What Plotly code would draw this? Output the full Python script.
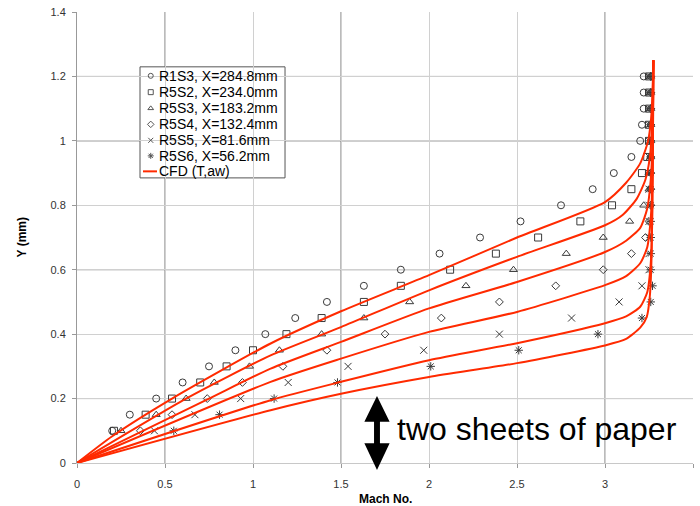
import plotly.graph_objects as go

# ---- data ----
Y_LEVELS = [0.10, 0.15, 0.20, 0.25, 0.30, 0.35, 0.40, 0.45, 0.50, 0.55, 0.60, 0.65,
            0.70, 0.75, 0.80, 0.85, 0.90, 0.95, 1.00, 1.05, 1.10, 1.15, 1.20]

R1S3 = [0.20, 0.30, 0.45, 0.60, 0.75, 0.90, 1.07, 1.24, 1.42, 1.63, 1.84, 2.06,
        2.29, 2.52, 2.75, 2.93, 3.05, 3.15, 3.20, 3.21, 3.22, 3.22, 3.22]
R5S2 = [0.21, 0.39, 0.54, 0.70, 0.85, 1.00, 1.19, 1.39, 1.63, 1.84, 2.12, 2.38,
        2.62, 2.86, 3.04, 3.15, 3.21, 3.24, 3.25, 3.25, 3.25, 3.25, 3.25]
R5S3 = [0.25, 0.45, 0.62, 0.78, 0.98, 1.15, 1.39, 1.63, 1.89, 2.21, 2.48, 2.78,
        2.99, 3.14, 3.22, 3.25, 3.25, 3.26, 3.26, 3.26, 3.26, 3.26, 3.26]
R5S4 = [0.36, 0.54, 0.74, 0.94, 1.17, 1.42, 1.75, 2.07, 2.40, 2.72, 2.99, 3.15,
        3.23, 3.25, 3.26, 3.26, 3.26, 3.26, 3.26, 3.26, 3.26, 3.26, 3.26]
R5S5 = [0.44, 0.67, 0.93, 1.20, 1.54, 1.97, 2.40, 2.81, 3.08, 3.21, 3.25, 3.25,
        3.25, 3.25, 3.25, 3.25, 3.25, 3.25, 3.25, 3.25, 3.25, 3.25, 3.25]
R5S6 = [0.55, 0.81, 1.12, 1.48, 2.01, 2.51, 2.96, 3.21, 3.26, 3.27, 3.26, 3.26,
        3.26, 3.26, 3.26, 3.26, 3.26, 3.26, 3.26, 3.26, 3.26, 3.26, 3.26]

SERIES_NAMES = ["R1S3, X=284.8mm", "R5S2, X=234.0mm", "R5S3, X=183.2mm",
                "R5S4, X=132.4mm", "R5S5, X=81.6mm", "R5S6, X=56.2mm"]
SERIES_MACH = [R1S3, R5S2, R5S3, R5S4, R5S5, R5S6]
SERIES_SYMBOLS = ["circle-open", "square-open", "triangle-up-open",
                  "diamond-open", "x-thin-open", "asterisk-open"]
SERIES_SIZES = [7, 7, 7, 6, 7, 7]
CFD_NAME = "CFD (T,aw)"

# CFD (T,aw) profiles: Mach and Y points
CFD1_M = [0, 0.20, 0.54, 1.10, 1.50, 2.00, 2.50, 3.00, 3.12, 3.20, 3.245, 3.262, 3.27, 3.275]
CFD1_Y = [0, 0.083, 0.200, 0.371, 0.471, 0.583, 0.700, 0.810, 0.870, 0.930, 1.000, 1.07, 1.15, 1.25]
CFD2_M = [0, 0.62, 1.10, 1.50, 2.00, 2.50, 3.00, 3.10, 3.18, 3.23, 3.255, 3.267, 3.275]
CFD2_Y = [0, 0.200, 0.334, 0.422, 0.536, 0.640, 0.738, 0.770, 0.820, 0.880, 0.950, 1.05, 1.25]
CFD3_M = [0, 0.75, 1.10, 1.50, 2.00, 2.50, 3.00, 3.12, 3.20, 3.24, 3.26, 3.27, 3.275]
CFD3_Y = [0, 0.200, 0.293, 0.376, 0.480, 0.562, 0.655, 0.690, 0.730, 0.790, 0.880, 1.00, 1.25]
CFD4_M = [0, 1.10, 1.50, 2.00, 2.50, 3.00, 3.12, 3.20, 3.24, 3.26, 3.27, 3.275]
CFD4_Y = [0, 0.252, 0.324, 0.407, 0.469, 0.552, 0.580, 0.620, 0.670, 0.760, 0.900, 1.25]
CFD5_M = [0, 1.10, 1.50, 2.00, 2.50, 3.00, 3.12, 3.20, 3.24, 3.26, 3.27, 3.275]
CFD5_Y = [0, 0.195, 0.252, 0.319, 0.372, 0.434, 0.455, 0.485, 0.530, 0.620, 0.800, 1.25]
CFD6_M = [0, 1.10, 1.50, 2.00, 2.50, 3.00, 3.12, 3.20, 3.237, 3.255, 3.265, 3.275]
CFD6_Y = [0, 0.164, 0.215, 0.267, 0.310, 0.365, 0.385, 0.420, 0.453, 0.520, 0.650, 1.25]
CFD_M = [CFD1_M, CFD2_M, CFD3_M, CFD4_M, CFD5_M, CFD6_M]
CFD_Y = [CFD1_Y, CFD2_Y, CFD3_Y, CFD4_Y, CFD5_Y, CFD6_Y]

X_TICKS = [0, 0.5, 1, 1.5, 2, 2.5, 3, 3.5]
Y_TICKS = [0, 0.2, 0.4, 0.6, 0.8, 1.0, 1.2, 1.4]

FONT = "Liberation Sans, Arial, sans-serif"
MARK_COLOR = "#3a3a3a"
RED = "#ff2a00"

fig = go.Figure()

# darker grid lines (as in the original rendering)
for xv in [0.5, 1.5, 3.0]:
    fig.add_shape(type="line", xref="x", yref="paper", x0=xv, x1=xv, y0=0, y1=1,
                  line=dict(color="#777777", width=1), layer="below")
for yv in [0.2, 0.6, 1.0, 1.2]:
    fig.add_shape(type="line", xref="paper", yref="y", x0=0, x1=1, y0=yv, y1=yv,
                  line=dict(color="#777777", width=1), layer="below")

# ---- legend box (axis coordinates, opaque, above the grid) ----
LEG_X0, LEG_X1, LEG_Y0, LEG_Y1 = 0.358, 1.182, 0.885, 1.2298
LEG_ROWS = [1.2019, 1.1512, 1.1009, 1.0512, 1.0016, 0.9534, 0.9053]
LEG_SYM_X = 0.419
LEG_TXT_X = 0.4545
LEG_LINE_X = [0.375, 0.4545]
fig.add_shape(type="rect", xref="x", yref="y", x0=LEG_X0, x1=LEG_X1,
              y0=LEG_Y0, y1=LEG_Y1, fillcolor="white", line=dict(color="#555555", width=1),
              layer="below")

for name, mach, sym, sz in zip(SERIES_NAMES, SERIES_MACH, SERIES_SYMBOLS, SERIES_SIZES):
    fig.add_trace(go.Scatter(
        x=mach, y=Y_LEVELS, mode="markers", name=name,
        marker=dict(symbol=sym, size=sz, color=MARK_COLOR, line=dict(width=1, color=MARK_COLOR)),
    ))

for i, (m, y) in enumerate(zip(CFD_M, CFD_Y)):
    fig.add_trace(go.Scatter(
        x=m, y=y, mode="lines", name=CFD_NAME,
        line=dict(color=RED, width=2, shape="spline", smoothing=0.6),
    ))

# legend keys and labels
for name, sym, ry in zip(SERIES_NAMES, SERIES_SYMBOLS, LEG_ROWS):
    fig.add_trace(go.Scatter(x=[LEG_SYM_X], y=[ry], mode="markers",
                             marker=dict(symbol=sym, size=5, color="#555555",
                                         line=dict(width=1, color="#555555")),
                             hoverinfo="skip", name=name))
    fig.add_annotation(text=name, xref="x", yref="y", x=LEG_TXT_X, y=ry,
                       xanchor="left", yanchor="middle", showarrow=False,
                       font=dict(family=FONT, size=14, color="black"))
fig.add_trace(go.Scatter(x=LEG_LINE_X, y=[LEG_ROWS[6], LEG_ROWS[6]],
                         mode="lines", line=dict(color=RED, width=2), hoverinfo="skip",
                         name=CFD_NAME))
fig.add_annotation(text=CFD_NAME, xref="x", yref="y", x=LEG_TXT_X, y=LEG_ROWS[6],
                   xanchor="left", yanchor="middle", showarrow=False,
                   font=dict(family=FONT, size=14, color="black"))

# double-headed arrow (paper coords, drawn as a filled path)
cx = 0.487
hw = 0.0205
sw = 0.0048
y_top, y_tb, y_bb, y_bot = 0.1486, 0.0916, 0.0437, -0.0155
path = (f"M {cx},{y_top} L {cx+hw},{y_tb} L {cx+sw},{y_tb} L {cx+sw},{y_bb} "
        f"L {cx+hw},{y_bb} L {cx},{y_bot} L {cx-hw},{y_bb} L {cx-sw},{y_bb} "
        f"L {cx-sw},{y_tb} L {cx-hw},{y_tb} Z")
fig.add_shape(type="path", xref="paper", yref="paper", path=path,
              fillcolor="black", line=dict(color="black", width=0))

fig.add_annotation(text="two sheets of paper", xref="paper", yref="paper",
                   x=0.516, y=0.075, xanchor="left", yanchor="middle", showarrow=False,
                   font=dict(family=FONT, size=32, color="black"))

# axis titles
fig.add_annotation(text="<b>Mach No.</b>", xref="paper", yref="paper", x=0.5, y=-0.0798,
                   xanchor="center", yanchor="middle", showarrow=False,
                   font=dict(family=FONT, size=12, color="black"))
fig.add_annotation(text="<b>Y (mm)</b>", xref="paper", yref="paper", x=-0.0893, y=0.5,
                   xanchor="center", yanchor="middle", showarrow=False, textangle=-90,
                   font=dict(family=FONT, size=12, color="black"))

fig.update_layout(
    width=700, height=506,
    margin=dict(l=77, r=7, t=12, b=43),
    paper_bgcolor="white", plot_bgcolor="white",
    font=dict(family=FONT, size=11, color="#333333"),
    showlegend=False,
)
fig.update_xaxes(range=[0, 3.5], tickvals=X_TICKS, ticktext=[f"{v:g}" for v in X_TICKS],
                 showgrid=True, gridcolor="#d0d0d0", gridwidth=1,
                 showline=True, linecolor="#c8c8c8", zeroline=False,
                 ticks="outside", ticklen=4, tickcolor="#999999",
                 ticklabelstandoff=7, automargin=False)
fig.update_yaxes(range=[0, 1.4], tickvals=Y_TICKS, ticktext=[f"{v:g}" for v in Y_TICKS],
                 showgrid=True, gridcolor="#d0d0d0", gridwidth=1,
                 showline=True, linecolor="#999999", zeroline=False,
                 ticks="outside", ticklen=4, tickcolor="#999999",
                 ticklabelstandoff=4, automargin=False)

fig.write_html("out.html")
